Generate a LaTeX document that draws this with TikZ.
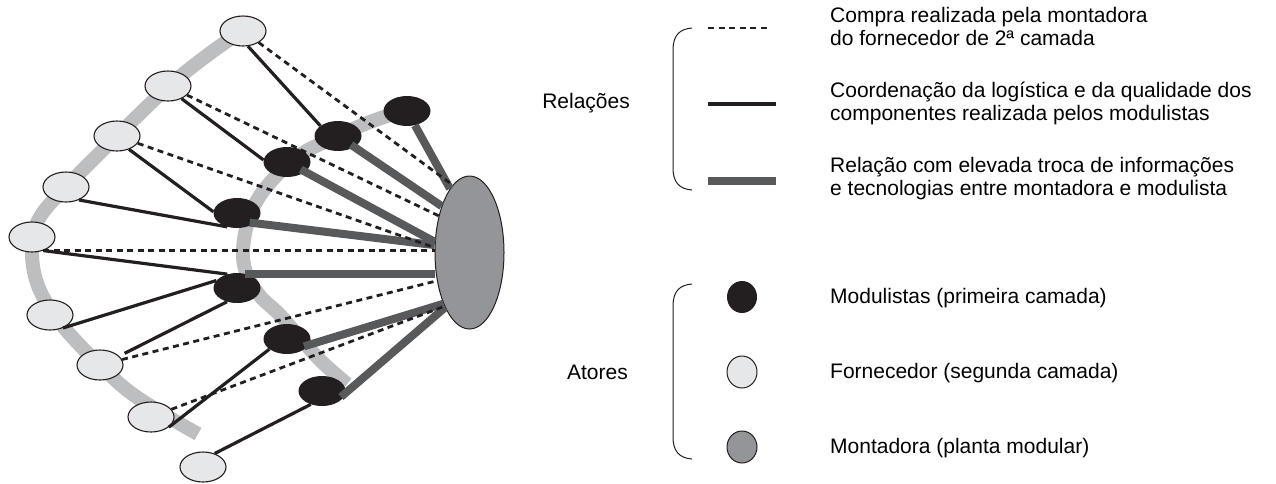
\documentclass[tikz,border=0pt]{standalone}
\usepackage{fontspec}
\setmainfont{Liberation Sans}
\usetikzlibrary{shapes.geometric}
\definecolor{lfill}{HTML}{E6E7E8}
\definecolor{dfill}{HTML}{231F20}
\definecolor{mfill}{HTML}{939598}
\definecolor{agray}{HTML}{BCBEC0}
\definecolor{tgray}{HTML}{58595B}
\pgfdeclarelayer{bg}
\pgfsetlayers{bg,main}
\newcommand\mytwolines[2]{\vtop{\baselineskip=23.5pt\hbox{#1}\hbox{#2}}}
\begin{document}
\begin{tikzpicture}[x=1pt,y=-1pt,
  supnode/.style={ellipse,draw=dfill,line width=1.1pt,fill=lfill,minimum width=46pt,minimum height=30pt,inner sep=0pt},
  modnode/.style={ellipse,fill=dfill,minimum width=47pt,minimum height=30pt,inner sep=0pt},
  montnode/.style={ellipse,draw=dfill,line width=1pt,fill=mfill,minimum width=69pt,minimum height=153pt,inner sep=0pt},
  coordline/.style={line width=3.2pt,draw=dfill},
  buyline/.style={line width=2.8pt,dash pattern=on 6pt off 4.5pt,draw=dfill},
  infoline/.style={line width=8pt,draw=tgray},
  tierarc/.style={line width=14pt,draw=agray},
  bracel/.style={line width=1pt,draw=dfill},
  lbl/.style={anchor=base west,inner sep=0pt,font=\fontsize{21}{24}\selectfont},
  keynode/.style={ellipse,minimum width=30pt,minimum height=32pt,inner sep=0pt}
]
\useasboundingbox (0,0) rectangle (1276,483);

% nodes
\node[supnode] (L1) at (243,31) {};
\node[supnode] (L2) at (168,86) {};
\node[supnode] (L3) at (117,136) {};
\node[supnode] (L4) at (66,187) {};
\node[supnode] (L5) at (32,237) {};
\node[supnode] (L6) at (50,315) {};
\node[supnode] (L7) at (100,365) {};
\node[supnode] (L8) at (151,417) {};
\node[supnode] (L9) at (203,467) {};
\node[modnode] (D1) at (407,111) {};
\node[modnode] (D2) at (338,136) {};
\node[modnode] (D3) at (287,162) {};
\node[modnode] (D4) at (237,213) {};
\node[modnode] (D5) at (237,288) {};
\node[modnode] (D6) at (287,339) {};
\node[modnode] (D7) at (322,391) {};
\node[montnode] (M) at (469.5,252.5) {};

% tier arcs behind
\begin{pgfonlayer}{bg}
\draw[tierarc] plot[smooth, tension=0.6] coordinates {(243,30) (205,57) (168,87) (117,136) (66,187) (40,217) (32,245) (36,280) (52,312) (75,340) (100,365) (127,390) (160,412) (198,434)};
\draw[tierarc] plot[smooth, tension=0.6] coordinates {(405,110) (370,122) (338,136) (300,155) (268,185) (250,215) (243,250) (247,275) (260,296) (280,315) (300,338) (322,362) (347,384)};
\end{pgfonlayer}

% coordination (solid)
\draw[coordline] (L1.288) -- (D2.150);
\draw[coordline] (L2.317) -- (D3.175);
\draw[coordline] (L3.312) -- (D4.177);
\draw[coordline] (L4.315) -- (D4.235);
\draw[coordline] (L5.310) -- (D5.125);
\draw[coordline] (L6.315) -- (D5.160);
\draw[coordline, shorten <=6pt] (L7.25) -- (D5.234);
\draw[coordline] (L8.330) -- (D6.210);
\draw[coordline] (L9.49) -- (D7.230);

% information exchange (thick)
\draw[infoline] (D1) -- (M.107);
\draw[infoline, shorten <=-4pt] (D2) -- (M.121);
\draw[infoline, shorten <=-5pt] (D3) -- (M.163);
\draw[infoline, shorten <=-5pt] (D4.-30) -- (M.168);
\draw[infoline] (D5.60) -- (D5.60 -| M.west);
\draw[infoline, shorten <=-5pt] (D6.-15) -- (M.243);
\draw[infoline, shorten <=-6pt] (D7.-5) -- (M.246);

% purchase (dashed)
\draw[buyline] (L1) -- (M.104);
\draw[buyline] (L2) -- (M.130);
\draw[buyline] (L3) -- (M.172);
\draw[buyline] (L5.310) -- (L5.310 -| M.west);
\draw[buyline] (L7) -- (M.221);
\draw[buyline] (L8) -- (M.245);

% legend: relations
\node[lbl, anchor=base east] (rel) at (630,108) {Relações};
\draw[bracel] (692,28) .. controls (679,29) and (673,36) .. (673,50) -- (673,168) .. controls (673,182) and (679,189) .. (692,190);
\coordinate (k1a) at (708,28); \coordinate (k1b) at (767,28);
\coordinate (k2a) at (708,104); \coordinate (k2b) at (776,104);
\coordinate (k3a) at (708,181); \coordinate (k3b) at (776,181);
\draw[buyline] (k1a) -- (k1b);
\draw[coordline] (k2a) -- (k2b);
\draw[infoline] (k3a) -- (k3b);
\node[lbl] (t1) at (830,22) {\mytwolines{Compra realizada pela montadora}{do fornecedor de 2ª camada}};
\node[lbl] (t2) at (830,97) {\mytwolines{Coordenação da logística e da qualidade dos}{componentes realizada pelos modulistas}};
\node[lbl] (t3) at (830,172) {\mytwolines{Relação com elevada troca de informações}{e tecnologias entre montadora e modulista}};

% legend: actors
\node[lbl, anchor=base east] (act) at (628,379) {Atores};
\draw[bracel] (692,284) .. controls (679,285) and (673,292) .. (673,306) -- (673,437) .. controls (673,451) and (679,458) .. (692,459);
\node[keynode, fill=dfill] (km) at (742,297) {};
\node[keynode, fill=lfill, draw=dfill, line width=1pt] (ks) at (742,372) {};
\node[keynode, fill=mfill, draw=dfill, line width=1pt] (kt) at (742,447) {};
\node[lbl] (t4) at (830,303) {Modulistas (primeira camada)};
\node[lbl] (t5) at (830,378) {Fornecedor (segunda camada)};
\node[lbl] (t6) at (830,453) {Montadora (planta modular)};
\end{tikzpicture}
\end{document}
